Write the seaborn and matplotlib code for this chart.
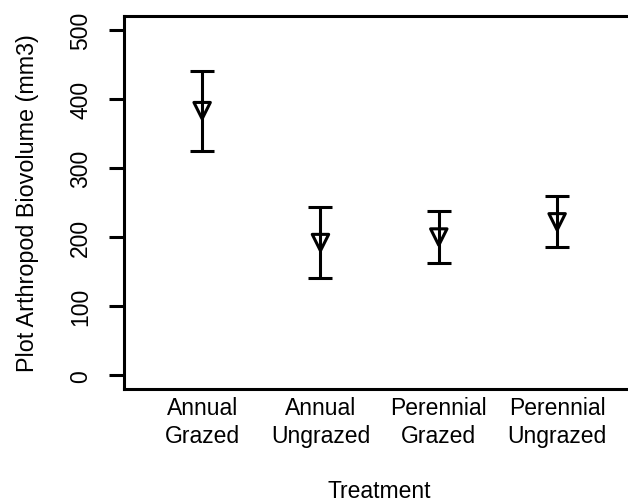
import numpy as np
import pandas as pd
import matplotlib
matplotlib.use("Agg")
import matplotlib.pyplot as plt
import seaborn as sns

# values
treatments = ["Annual\nGrazed", "Annual\nUngrazed", "Perennial\nGrazed", "Perennial\nUngrazed"]
mean_volume = [383, 192, 200, 222]
se_volume = [58, 51, 37, 37]
y_ticks = [0, 100, 200, 300, 400, 500]

df = pd.DataFrame({"Treatment": treatments, "Biovolume": mean_volume, "SE": se_volume})

sns.set_style("white")
plt.rcParams["font.family"] = ["Liberation Sans", "DejaVu Sans"]
plt.rcParams["text.color"] = "black"
plt.rcParams["axes.labelcolor"] = "black"
plt.rcParams["xtick.color"] = "black"
plt.rcParams["ytick.color"] = "black"

fig = plt.figure(figsize=(6.28, 5.02), dpi=100)
ax = fig.add_axes([0.1975, 0.2231, 0.814, 0.743])

ax.errorbar(df["Treatment"], df["Biovolume"], yerr=df["SE"], fmt="none",
            ecolor="black", elinewidth=2.2, capsize=8.3, capthick=2.2)
sns.scatterplot(data=df, x="Treatment", y="Biovolume", marker="v", s=140,
                facecolor="none", edgecolor="black", linewidth=2.2, ax=ax, zorder=3)

ax.set_xlim(-0.66, 3.66)
ax.set_ylim(-20, 520)
ax.set_yticks(y_ticks)
ax.set_yticklabels([str(t) for t in y_ticks], rotation=90, va="center")

for side in ["left", "bottom", "top", "right"]:
    ax.spines[side].set_visible(True)
    ax.spines[side].set_linewidth(2.2)
    ax.spines[side].set_color("black")

ax.tick_params(axis="y", direction="out", length=11, width=2.2, pad=12,
               labelsize=16.5, left=True, color="black", labelcolor="black")
ax.tick_params(axis="x", length=0, pad=5, labelsize=16.5, labelcolor="black")
for lab in ax.get_xticklabels():
    lab.set_linespacing(1.3)

ax.set_xlabel("Treatment", fontsize=16.5, labelpad=23, color="black")
ax.set_ylabel("Plot Arthropod Biovolume (mm3)", fontsize=16.8, labelpad=22, color="black")

fig.savefig("out.png", dpi=100)
